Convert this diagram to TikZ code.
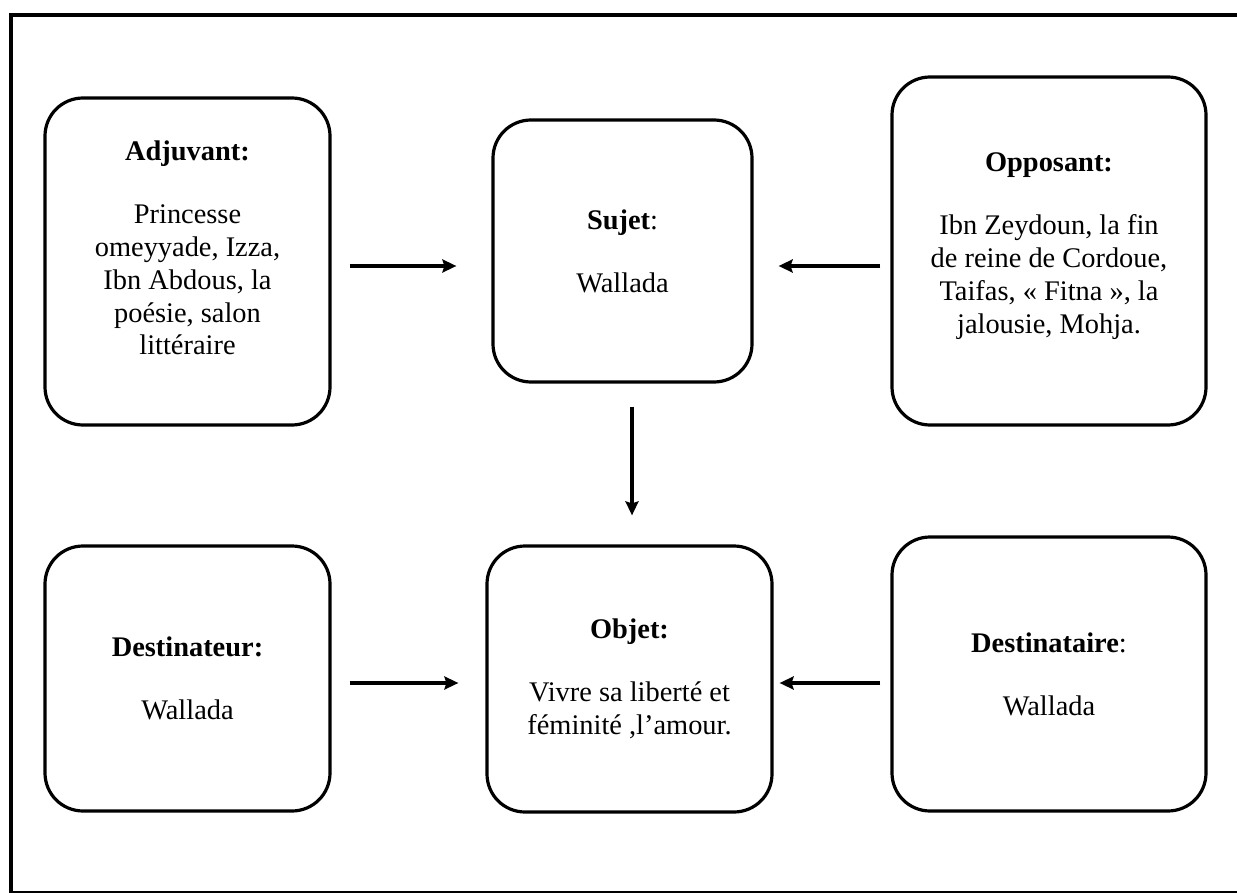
\documentclass[tikz,border=0pt]{standalone}
\usepackage{fontspec}
\setmainfont{Liberation Serif}
\usepackage{tikz}
\usetikzlibrary{
    arrows.meta,
    positioning
}
\tikzstyle{box} = [
    rectangle, draw,
    rounded corners=19pt,
    line width=1.6pt,
    text centered,
    align=center,
    inner sep=0pt,
    font=\fontsize{14.2}{16.4}\selectfont
]
\tikzstyle{arrow} = [
    line width=1.7pt,
    -{Stealth[length=7pt,width=6.5pt,inset=1pt]}
]

\begin{document}
\begin{tikzpicture}[x=0.5pt, y=-0.5pt]
    \useasboundingbox (0,0) rectangle (1237,893);
    % cadre
    \draw[line width=2pt] (11,15) rectangle (1250,892.5);

    % ligne du haut
    \node[box, minimum width=142.5pt, minimum height=163.5pt] (adj) at (187.5,261.5)
        {\textbf{Adjuvant:}\\[15pt] Princesse\\ omeyyade, Izza,\\ Ibn Abdous, la\\ poésie, salon\\ littéraire\\[-3pt]\mbox{}};
    \node[box, minimum width=129.5pt, minimum height=131pt] (suj) at (622.5,251)
        {\textbf{Sujet}:\\[15pt] Wallada};
    \node[box, minimum width=157pt, minimum height=174pt] (opp) at (1049,251)
        {\textbf{Opposant:}\\[15pt] Ibn Zeydoun, la fin\\ de reine de Cordoue,\\ Taifas, « Fitna », la\\ jalousie, Mohja.\\[-8.4pt]\mbox{}};

    % ligne du bas
    \node[box, minimum width=142.5pt, minimum height=132.5pt] (dest) at (187.5,678.5)
        {\textbf{Destinateur:}\\[15pt] Wallada};
    \node[box, minimum width=142.5pt, minimum height=133pt] (obj) at (629.5,679)
        {\textbf{Objet:}\\[15pt] Vivre sa liberté et\\ féminité ,l’amour.};
    \node[box, minimum width=157pt, minimum height=137pt] (dtaire) at (1049,674)
        {\textbf{Destinataire}:\\[15pt] Wallada};

    % fleches
    \coordinate (haut) at (0,266);
    \coordinate (bas) at (0,683);
    \draw[arrow] ([xshift=9pt]adj.east |- haut) -- ([xshift=-17.5pt]suj.west |- haut);
    \draw[arrow] ([xshift=-5pt]opp.west |- haut) -- ([xshift=12.5pt]suj.east |- haut);
    \draw[arrow] ([yshift=-11.5pt]suj.south -| 632,0) -- ([yshift=14.5pt]obj.north -| 632,0);
    \draw[arrow] ([xshift=9pt]dest.east |- bas) -- ([xshift=-13.5pt]obj.west |- bas);
    \draw[arrow] ([xshift=-5pt]dtaire.west |- bas) -- ([xshift=3pt]obj.east |- bas);
\end{tikzpicture}
\end{document}
